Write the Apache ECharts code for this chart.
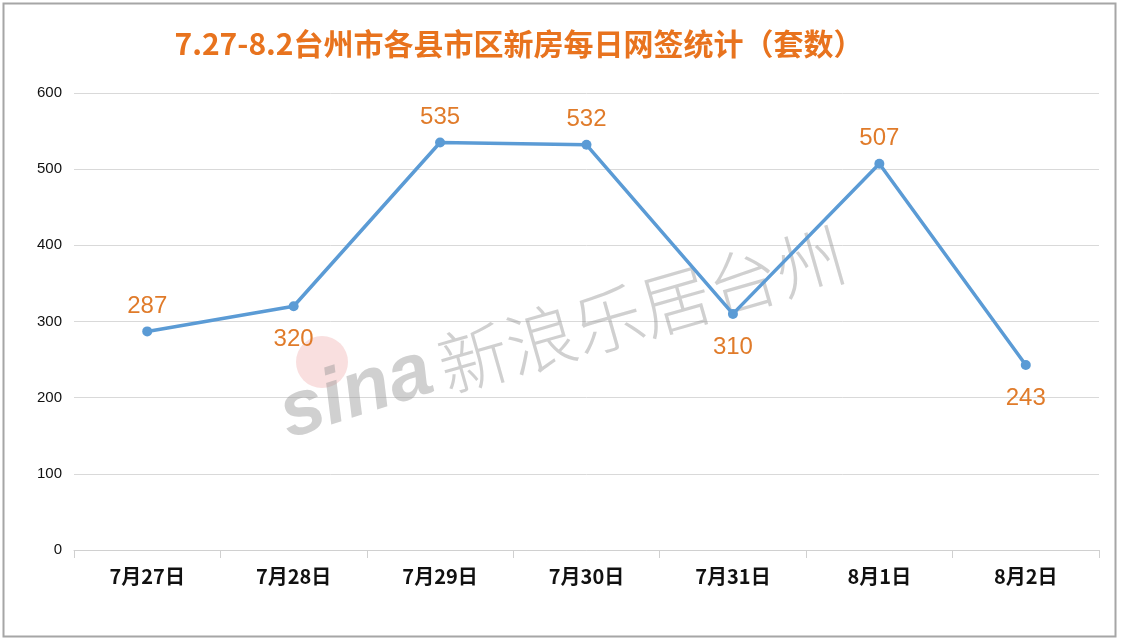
<!DOCTYPE html>
<html>
<head>
<meta charset="utf-8">
<script src="https://cdn.jsdelivr.net/npm/echarts@6/dist/echarts.min.js"></script>
<style>html,body{margin:0;padding:0;background:#fff;}#c{width:1121px;height:640px;}</style>
</head>
<body>
<div id="c"></div>
<script>
const titleText = '7.27-8.2台州市各县市区新房每日网签统计（套数）';
const categories = ['7月27日','7月28日','7月29日','7月30日','7月31日','8月1日','8月2日'];
const values = [287, 320, 535, 532, 310, 507, 243];
const labelPos = ['top','bottom','top','top','bottom','top','bottom'];
const yMin = 0, yMax = 600, yInterval = 100;

const chart = echarts.init(document.getElementById('c'));
chart.setOption({
  backgroundColor: '#fff',
  animation: false,
  title: {
    text: titleText,
    left: 514, top: 24, textAlign: 'center',
    textStyle: {color: '#E8731E', fontSize: 30, fontWeight: 'bold', fontFamily: 'Noto Sans CJK SC'}
  },
  grid: {left: 74, right: 22, top: 93, bottom: 90, containLabel: false},
  xAxis: {
    type: 'category', data: categories, boundaryGap: true,
    axisLine: {lineStyle: {color: '#D0D0D0', width: 1}},
    axisTick: {show: true, length: 8, lineStyle: {color: '#D0D0D0'}},
    axisLabel: {color: '#111', fontSize: 20, fontWeight: 'bold', margin: 16, fontFamily: 'Noto Sans CJK SC'}
  },
  yAxis: {
    type: 'value', min: yMin, max: yMax, interval: yInterval,
    axisLine: {show: false}, axisTick: {show: false},
    axisLabel: {color: '#111', fontSize: 15, margin: 12, fontFamily: 'Liberation Sans'},
    splitLine: {lineStyle: {color: '#D9D9D9', width: 1}}
  },
  graphic: [
    {type: 'rect', shape: {x: 3.5, y: 3.5, width: 1112, height: 633}, style: {fill: 'none', stroke: '#A6A6A6', lineWidth: 2}, z: 100},
    {type: 'text', x: 440, y: 368, rotation: 16 * Math.PI / 180, style: {text: '新浪乐居台州', font: '300 70px "Noto Sans CJK SC"', fill: 'rgba(150,150,150,0.45)', verticalAlign: 'middle', align: 'left'}, z: 1},
    {type: 'circle', shape: {cx: 322, cy: 362, r: 26}, style: {fill: 'rgba(235,150,150,0.3)'}, z: 1},
    {type: 'text', x: 282, y: 418, rotation: 18 * Math.PI / 180, style: {text: 'sina', font: 'italic bold 78px "Liberation Sans"', fill: 'rgba(150,150,150,0.45)', verticalAlign: 'middle', align: 'left'}, z: 1}
  ],
  series: [{
    type: 'line', data: values.map((v, i) => ({value: v, label: {position: labelPos[i], distance: labelPos[i] === 'bottom' ? 16 : 8}})),
    z: 5,
    lineStyle: {color: '#5B9BD5', width: 3.5},
    itemStyle: {color: '#5B9BD5'},
    symbol: 'circle', symbolSize: 10,
    label: {show: true, color: '#E07B2A', fontSize: 24, fontFamily: 'Liberation Sans'}
  }]
});
</script>
</body>
</html>
